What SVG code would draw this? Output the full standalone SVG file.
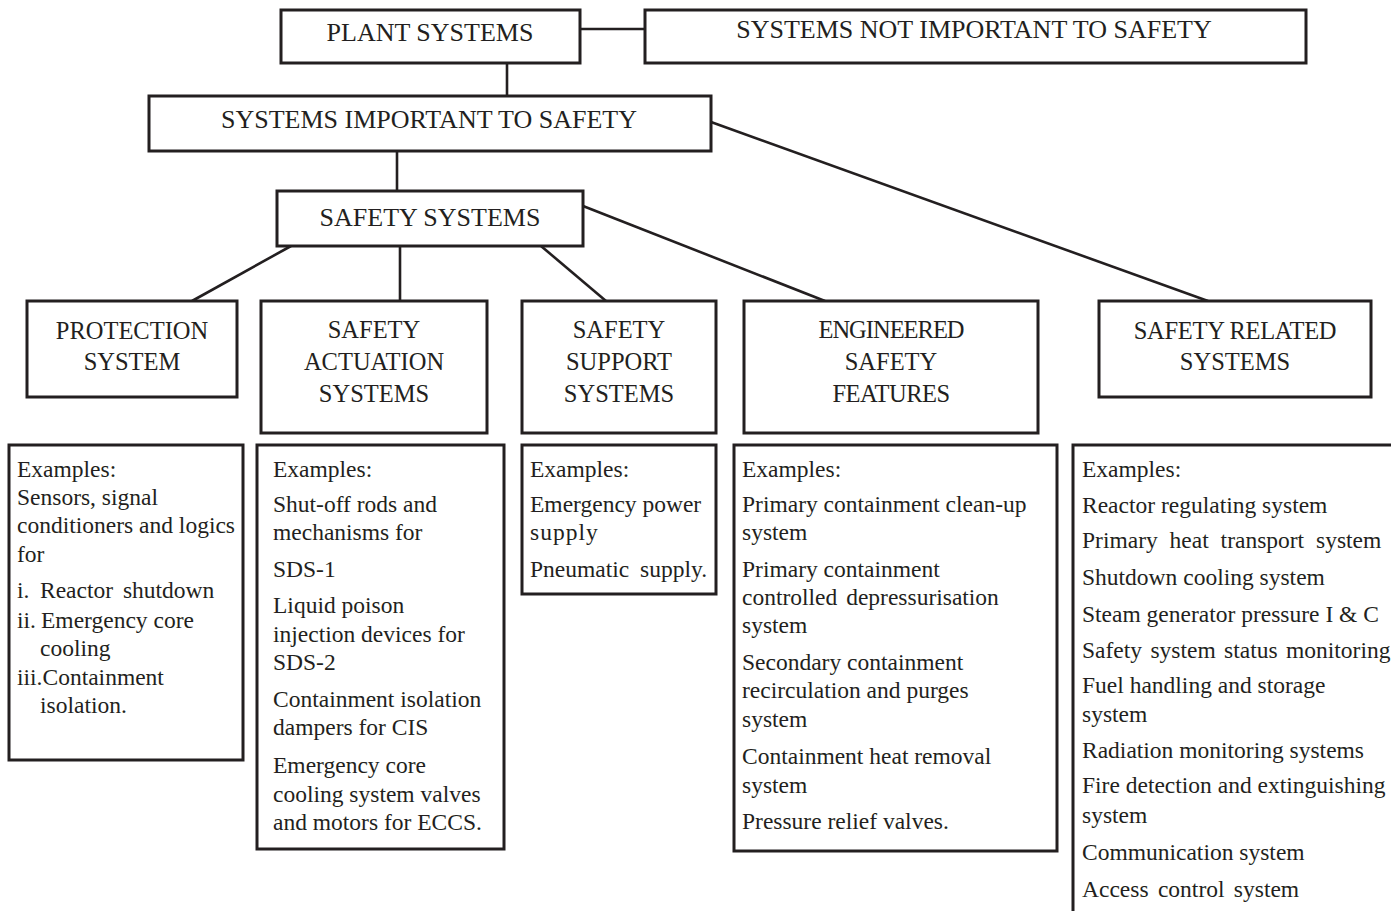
<svg xmlns="http://www.w3.org/2000/svg" width="1391" height="911" viewBox="0 0 1391 911">
<style>
.box{fill:#fff;stroke:#231f20;stroke-width:3}
.ln{fill:none;stroke:#231f20;stroke-width:2.6}
.h{font-family:"Liberation Serif","Times New Roman",serif;font-size:26px;fill:#231f20;text-anchor:middle}
.h2{font-family:"Liberation Serif","Times New Roman",serif;font-size:24.5px;fill:#231f20;text-anchor:middle}
.t{font-family:"Liberation Serif","Times New Roman",serif;font-size:23.5px;fill:#231f20}
</style>
<rect width="1391" height="911" fill="#fff"/>
<g id="connectors">
<path class="ln" d="M580,29 H645"/>
<path class="ln" d="M507,63 V96"/>
<path class="ln" d="M397,151 V191"/>
<path class="ln" d="M711,122 L1208,301"/>
<path class="ln" d="M291,246 L192,301"/>
<path class="ln" d="M400,246 V301"/>
<path class="ln" d="M541,246 L606,301"/>
<path class="ln" d="M583,206 L825,301"/>
</g>
<g id="plant-systems">
<rect class="box" x="281" y="10" width="299" height="53"/>
<text class="h" x="430" y="41">PLANT SYSTEMS</text>
</g>
<g id="systems-not-important">
<rect class="box" x="645" y="10" width="661" height="53"/>
<text class="h" x="974" y="38">SYSTEMS NOT IMPORTANT TO SAFETY</text>
</g>
<g id="systems-important">
<rect class="box" x="149" y="96" width="562" height="55"/>
<text class="h" x="429" y="128">SYSTEMS IMPORTANT TO SAFETY</text>
</g>
<g id="safety-systems">
<rect class="box" x="277" y="191" width="306" height="55"/>
<text class="h" x="430" y="226">SAFETY SYSTEMS</text>
</g>
<g id="protection-system">
<rect class="box" x="27" y="301" width="210" height="96"/>
<text class="h2" x="132" y="339">PROTECTION</text>
<text class="h2" x="132" y="370">SYSTEM</text>
</g>
<g id="safety-actuation">
<rect class="box" x="261" y="301" width="226" height="132"/>
<text class="h2" x="374" y="338">SAFETY</text>
<text class="h2" x="374" y="370">ACTUATION</text>
<text class="h2" x="374" y="402">SYSTEMS</text>
</g>
<g id="safety-support">
<rect class="box" x="522" y="301" width="194" height="132"/>
<text class="h2" x="619" y="338">SAFETY</text>
<text class="h2" x="619" y="370">SUPPORT</text>
<text class="h2" x="619" y="402">SYSTEMS</text>
</g>
<g id="engineered-safety">
<rect class="box" x="744" y="301" width="294" height="132"/>
<text class="h2" x="891" y="338" letter-spacing="-1">ENGINEERED</text>
<text class="h2" x="891" y="370">SAFETY</text>
<text class="h2" x="891" y="402" letter-spacing="-0.5">FEATURES</text>
</g>
<g id="safety-related">
<rect class="box" x="1099" y="301" width="272" height="96"/>
<text class="h2" x="1235" y="339" letter-spacing="-0.3">SAFETY RELATED</text>
<text class="h2" x="1235" y="370">SYSTEMS</text>
</g>
<g id="ex-protection">
<rect class="box" x="9" y="445" width="234" height="315"/>
<text class="t" x="17" y="477">Examples:</text>
<text class="t" x="17" y="505">Sensors, signal</text>
<text class="t" x="17" y="533">conditioners and logics</text>
<text class="t" x="17" y="562">for</text>
<text class="t" x="17" y="598">i.</text><text class="t" x="40" y="598" word-spacing="4">Reactor shutdown</text>
<text class="t" x="17" y="628">ii.</text><text class="t" x="41" y="628">Emergency core</text>
<text class="t" x="40" y="656">cooling</text>
<text class="t" x="17" y="685">iii.Containment</text>
<text class="t" x="40" y="713">isolation.</text>
</g>
<g id="ex-actuation">
<rect class="box" x="257" y="445" width="247" height="404"/>
<text class="t" x="273" y="477">Examples:</text>
<text class="t" x="273" y="512">Shut-off rods and</text>
<text class="t" x="273" y="540">mechanisms for</text>
<text class="t" x="273" y="577">SDS-1</text>
<text class="t" x="273" y="613">Liquid poison</text>
<text class="t" x="273" y="642">injection devices for</text>
<text class="t" x="273" y="670">SDS-2</text>
<text class="t" x="273" y="707">Containment isolation</text>
<text class="t" x="273" y="735">dampers for CIS</text>
<text class="t" x="273" y="773">Emergency core</text>
<text class="t" x="273" y="802">cooling system valves</text>
<text class="t" x="273" y="830">and motors for ECCS.</text>
</g>
<g id="ex-support">
<rect class="box" x="522" y="445" width="194" height="149"/>
<text class="t" x="530" y="477">Examples:</text>
<text class="t" x="530" y="512">Emergency power</text>
<text class="t" x="530" y="540" letter-spacing="1">supply</text>
<text class="t" x="530" y="577" word-spacing="5">Pneumatic supply.</text>
</g>
<g id="ex-engineered">
<rect class="box" x="734" y="445" width="323" height="406"/>
<text class="t" x="742" y="477">Examples:</text>
<text class="t" x="742" y="512">Primary containment clean-up</text>
<text class="t" x="742" y="540">system</text>
<text class="t" x="742" y="577">Primary containment</text>
<text class="t" x="742" y="605" word-spacing="3">controlled depressurisation</text>
<text class="t" x="742" y="633">system</text>
<text class="t" x="742" y="670">Secondary containment</text>
<text class="t" x="742" y="698">recirculation and purges</text>
<text class="t" x="742" y="727">system</text>
<text class="t" x="742" y="764">Containment heat removal</text>
<text class="t" x="742" y="793">system</text>
<text class="t" x="742" y="829">Pressure relief valves.</text>
</g>
<g id="ex-related">
<rect class="box" x="1073" y="445" width="340" height="500"/>
<text class="t" x="1082" y="477">Examples:</text>
<text class="t" x="1082" y="513">Reactor regulating system</text>
<text class="t" x="1082" y="548" word-spacing="6">Primary heat transport system</text>
<text class="t" x="1082" y="585">Shutdown cooling system</text>
<text class="t" x="1082" y="622">Steam generator pressure I &amp; C</text>
<text class="t" x="1082" y="658" word-spacing="2.5">Safety system status monitoring</text>
<text class="t" x="1082" y="693">Fuel handling and storage</text>
<text class="t" x="1082" y="722">system</text>
<text class="t" x="1082" y="758">Radiation monitoring systems</text>
<text class="t" x="1082" y="793">Fire detection and extinguishing</text>
<text class="t" x="1082" y="823">system</text>
<text class="t" x="1082" y="860">Communication system</text>
<text class="t" x="1082" y="897" word-spacing="3.5">Access control system</text>
</g>
</svg>
